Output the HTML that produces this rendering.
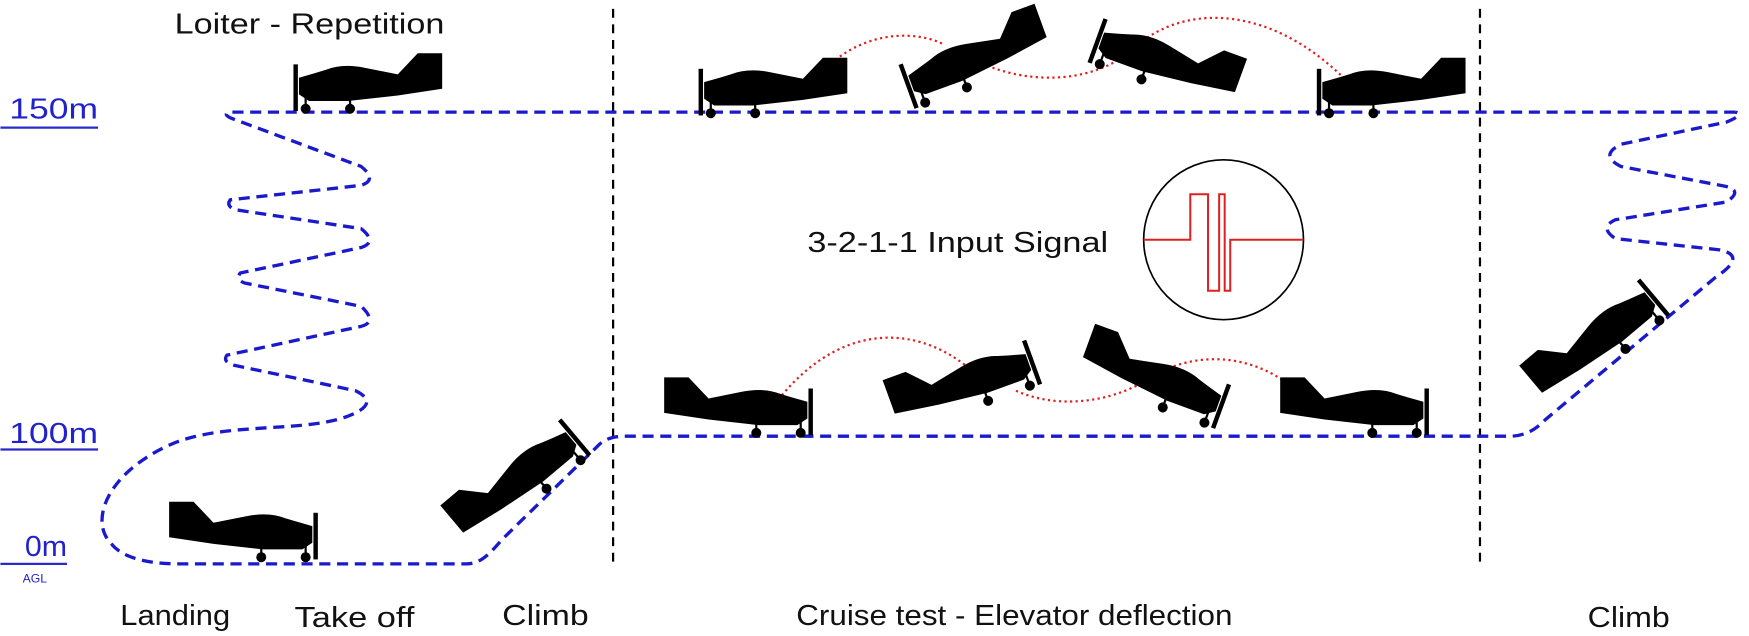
<!DOCTYPE html>
<html><head><meta charset="utf-8"><style>html,body{margin:0;padding:0;background:#fff}svg{display:block}</style></head>
<body>
<svg width="1749" height="636" viewBox="0 0 1575 573" xmlns="http://www.w3.org/2000/svg" font-family="Liberation Sans, sans-serif">
<defs>
<g id="p">
<path d="M6,22 L20,18 L30,15 Q45,9 65,13 L95,19 L113,0 L135,0 L135,32 L95,38 L50,43 L15,43 L6,37 Z" fill="#000"/>
<rect x="1" y="10" width="4" height="42" fill="#000"/>
<line x1="12" y1="40" x2="12" y2="48" stroke="#000" stroke-width="2"/>
<line x1="52" y1="40" x2="52" y2="48" stroke="#000" stroke-width="2"/>
<circle cx="12" cy="50" r="4.5"/><circle cx="52" cy="50" r="4.5"/>
</g>
<g id="m"><use href="#p" transform="matrix(-1,0,0,1,135,0)"/></g>
</defs>
<rect width="1575" height="573" fill="#fff"/>
<line x1="552" y1="8" x2="552" y2="512" stroke="#000" stroke-width="2" stroke-dasharray="8,6"/>
<line x1="1333" y1="8" x2="1333" y2="512" stroke="#000" stroke-width="2" stroke-dasharray="8,6"/>
<path d="M1563,101 L205,101 Q200,104 212,108 L325,150 Q340,162 325,167 L207,180 Q203,186 212,189 L325,206 Q340,218 325,223 L216,246 Q212,252 220,255 L325,276 Q340,290 325,294 L204,320 Q200,326 210,329 L320,352 Q340,362 320,372 C280,392 200,378 150,402 C95,428 80,470 100,490 C112,505 140,508 160,508 L420,508 C432,508 440,500 452,486 L540,400 Q548,393 562,393 L1360,393 Q1378,393 1392,378 L1545,250 Q1575,230 1548,225 L1455,215 Q1440,205 1455,198 L1555,182 Q1570,172 1555,168 L1460,150 Q1440,140 1460,130 L1555,110 Q1572,103 1563,101" fill="none" stroke="#1a1acc" stroke-width="3" stroke-dasharray="10,6" stroke-linejoin="round"/>
<g fill="none" stroke="#e02020" stroke-width="2" stroke-dasharray="2,3">
<path d="M738,68 C770,30 820,25 850,40"/>
<path d="M880,55 C920,75 980,78 1020,45 C1060,5 1140,0 1212,72"/>
<path d="M612,372 C650,376 690,368 705,355 C760,290 830,290 882,340"/>
<path d="M915,352 C950,368 1000,365 1040,338 C1080,315 1130,320 1165,350"/>
</g>
<use href="#p" transform="translate(263,48)"/>
<use href="#p" transform="translate(628,52)"/>
<use href="#p" transform="translate(810,25) rotate(-20,67,27)"/>
<use href="#p" transform="translate(983,28) rotate(20,67,27)"/>
<use href="#p" transform="translate(1185,52)"/>
<use href="#m" transform="translate(598,340)"/>
<use href="#m" transform="translate(800,318) rotate(-20,67,27)"/>
<use href="#m" transform="translate(973,313) rotate(20,67,27)"/>
<use href="#m" transform="translate(1153,340)"/>
<use href="#m" transform="translate(152,452)"/>
<use href="#m" transform="translate(398,406) rotate(-40,67,27)"/>
<use href="#m" transform="translate(1370,280) rotate(-40,67,27)"/>
<circle cx="1102" cy="216" r="72" fill="none" stroke="#000" stroke-width="1.5"/>
<polyline points="1030,216 1072,216 1072,175 1088,175 1088,262 1098,262 1098,175 1103,175 1103,262 1108,262 1108,216 1174,216" fill="none" stroke="#e02020" stroke-width="1.8"/>
<text x="727" y="227" font-size="26" fill="#111" textLength="271" lengthAdjust="spacingAndGlyphs">3-2-1-1 Input Signal</text>
<g fill="#2222cc">
<text x="8" y="107" font-size="26" textLength="80" lengthAdjust="spacingAndGlyphs">150m</text>
<text x="8" y="399" font-size="26" textLength="80" lengthAdjust="spacingAndGlyphs">100m</text>
<text x="22" y="501" font-size="26" textLength="38" lengthAdjust="spacingAndGlyphs">0m</text>
<text x="20" y="525" font-size="11">AGL</text>
</g>
<g stroke="#2a2acc" stroke-width="2">
<line x1="0" y1="115" x2="88" y2="115"/>
<line x1="0" y1="405" x2="88" y2="405"/>
<line x1="0" y1="508" x2="60" y2="508"/>
</g>
<g font-size="26" fill="#111">
<text x="157" y="30" textLength="243" lengthAdjust="spacingAndGlyphs">Loiter - Repetition</text>
<text x="108" y="563" textLength="99" lengthAdjust="spacingAndGlyphs">Landing</text>
<text x="265" y="565" textLength="108" lengthAdjust="spacingAndGlyphs">Take off</text>
<text x="452" y="563" textLength="78" lengthAdjust="spacingAndGlyphs">Climb</text>
<text x="717" y="563" textLength="393" lengthAdjust="spacingAndGlyphs">Cruise test - Elevator deflection</text>
<text x="1430" y="565" textLength="74" lengthAdjust="spacingAndGlyphs">Climb</text>
</g>
</svg>
</body></html>
